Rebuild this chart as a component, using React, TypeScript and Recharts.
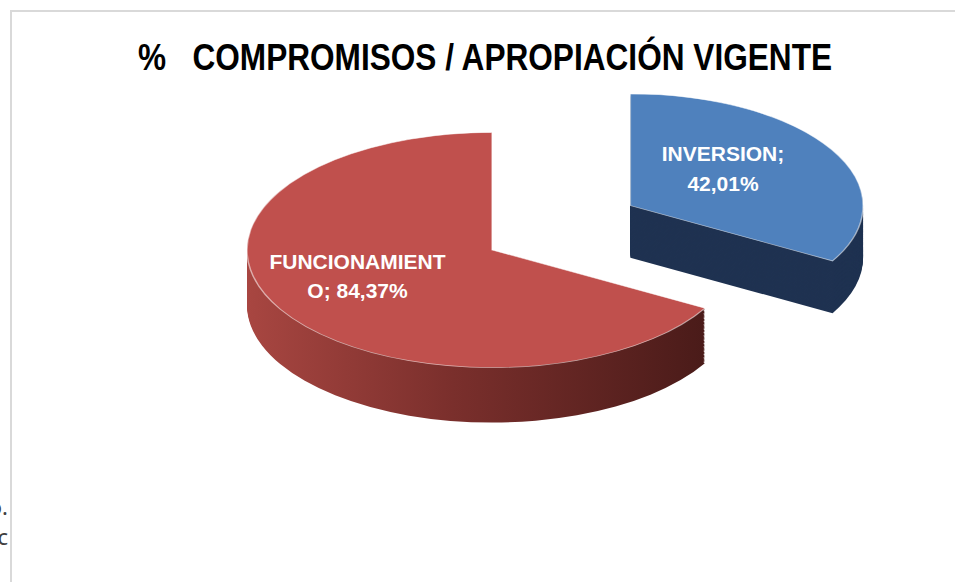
import React from 'react';
import { PieChart, Pie, Cell } from 'recharts';

// chart values
const categories = ['INVERSION', 'FUNCIONAMIENTO'];
const percentages = [42.01, 84.37];
const topColors = ['#4F81BD', '#C0504D'];
const sideColors = ['#1F3251', 'url(#redSide)'];
const title = '%   COMPROMISOS / APROPIACIÓN VIGENTE';

const data = categories.map((name, i) => ({ name, value: percentages[i] }));

// fake 3D: the pie svg is squashed vertically, depth drawn with stacked layers
const SQUASH = 0.48;
const RADIUS = 245;
const CX = 492;
const CY = 250 / SQUASH;
const DEPTH = 55 / SQUASH;
const LAYERS = 40;
const EXPLODE = 160;
const FAR = 0.95; // exploded slice sits further back, a bit smaller
const RADIAN = Math.PI / 180;
const CHART_W = 955;
const CHART_H = 900;

const total = percentages.reduce((a, b) => a + b, 0);
const blueMid = 90 - (360 * percentages[0]) / total / 2;
const blueCx = CX + EXPLODE * Math.cos(blueMid * RADIAN);
const blueCy = CY - EXPLODE * 1.15 * Math.sin(blueMid * RADIAN);

const wrapText = (text: string, max: number) => {
  const lines: string[] = [];
  let line = '';
  text.split(' ').forEach((word) => {
    const next = line ? line + ' ' + word : word;
    if (next.length <= max) {
      line = next;
      return;
    }
    if (line) lines.push(line);
    line = word;
    while (line.length > max) {
      lines.push(line.slice(0, max));
      line = line.slice(max);
    }
  });
  if (line) lines.push(line);
  return lines;
};

const renderLabel = (visibleIndex: number) => (props: any) => {
  const { cx, cy, midAngle, outerRadius, index, name, value } = props;
  if (index !== visibleIndex) return null;
  const r = outerRadius * 0.55;
  const x = cx + r * Math.cos(-midAngle * RADIAN) - 18;
  const y = (cy + r * Math.sin(-midAngle * RADIAN)) * SQUASH - 6;
  const lines = wrapText(`${name}; ${value.toFixed(2).replace('.', ',')}%`, 13);
  const lh = 30;
  return (
    <g transform={`translate(${x}, ${cy}) scale(1, ${1 / SQUASH}) translate(0, ${y - cy * SQUASH})`}>
      <text
        textAnchor="middle"
        fill="#ffffff"
        fontFamily="'Liberation Sans', Arial, sans-serif"
        fontWeight="bold"
        fontSize={21}
      >
        {lines.map((l, i) => (
          <tspan key={i} x={0} y={(i - (lines.length - 1) / 2) * lh + 7}>
            {l}
          </tspan>
        ))}
      </text>
    </g>
  );
};

const slicePies = (idx: number, cx: number, cy: number, scale: number) => {
  const depth = DEPTH * scale;
  const offsets = Array.from({ length: LAYERS }, (_, i) => depth - (i * depth) / LAYERS);
  return [
    ...offsets.map((off) => (
      <Pie
        key={`s${idx}-${off}`}
        data={data}
        dataKey="value"
        cx={cx}
        cy={cy + off}
        outerRadius={RADIUS * scale}
        startAngle={90}
        endAngle={-270}
        stroke="none"
        isAnimationActive={false}
      >
        {data.map((d, i) => (
          <Cell key={d.name} fill={i === idx ? sideColors[idx] : 'none'} stroke="none" />
        ))}
      </Pie>
    )),
    <Pie
      key={`t${idx}`}
      data={data}
      dataKey="value"
      cx={cx}
      cy={cy}
      outerRadius={RADIUS * scale}
      startAngle={90}
      endAngle={-270}
      isAnimationActive={false}
      labelLine={false}
      label={renderLabel(idx)}
    >
      {data.map((d, i) => (
        <Cell
          key={d.name}
          fill={i === idx ? topColors[idx] : 'none'}
          stroke={i === idx ? 'rgba(255,255,255,0.55)' : 'none'}
          strokeWidth={1.5}
        />
      ))}
    </Pie>,
  ];
};

export default function App() {
  return (
    <div
      style={{
        position: 'fixed',
        left: 0,
        top: 0,
        width: 955,
        height: 582,
        background: '#ffffff',
        overflow: 'hidden',
      }}
    >
      <div
        style={{
          position: 'absolute',
          left: 10,
          top: 10,
          right: -2,
          bottom: -2,
          borderLeft: '2px solid #D9D9D9',
          borderTop: '2px solid #D9D9D9',
        }}
      />
      <div
        style={{
          position: 'absolute',
          left: 0,
          top: 0,
          width: CHART_W,
          height: CHART_H,
          transform: `scaleY(${SQUASH})`,
          transformOrigin: '0 0',
        }}
      >
        <PieChart width={CHART_W} height={CHART_H} margin={{ top: 0, right: 0, bottom: 0, left: 0 }}>
          <defs>
            <linearGradient id="redSide" x1="0" y1="0" x2="1" y2="0">
              <stop offset="0" stopColor="#A84641" />
              <stop offset="0.45" stopColor="#7A2F2C" />
              <stop offset="1" stopColor="#4A1B19" />
            </linearGradient>
          </defs>
          {slicePies(0, blueCx, blueCy, FAR)}
          {slicePies(1, CX, CY, 1)}
        </PieChart>
      </div>
      <svg
        width={955}
        height={582}
        style={{ position: 'absolute', left: 0, top: 0, pointerEvents: 'none' }}
      >
        <text
          x={485}
          y={70}
          textAnchor="middle"
          fontFamily="'Liberation Sans Narrow', 'Liberation Sans', Arial, sans-serif"
          fontWeight="bold"
          fontSize={37}
          fill="#000000"
          textLength={694}
          lengthAdjust="spacingAndGlyphs"
          style={{ whiteSpace: 'pre' }}
        >
          {title}
        </text>
        <text x={8} y={515} textAnchor="end" fontFamily="'Noto Sans', sans-serif" fontSize={22} fill="#404040">
          o.
        </text>
        <text x={8} y={545} textAnchor="end" fontFamily="'Noto Sans', sans-serif" fontSize={22} fill="#404040">
          nc
        </text>
      </svg>
    </div>
  );
}
